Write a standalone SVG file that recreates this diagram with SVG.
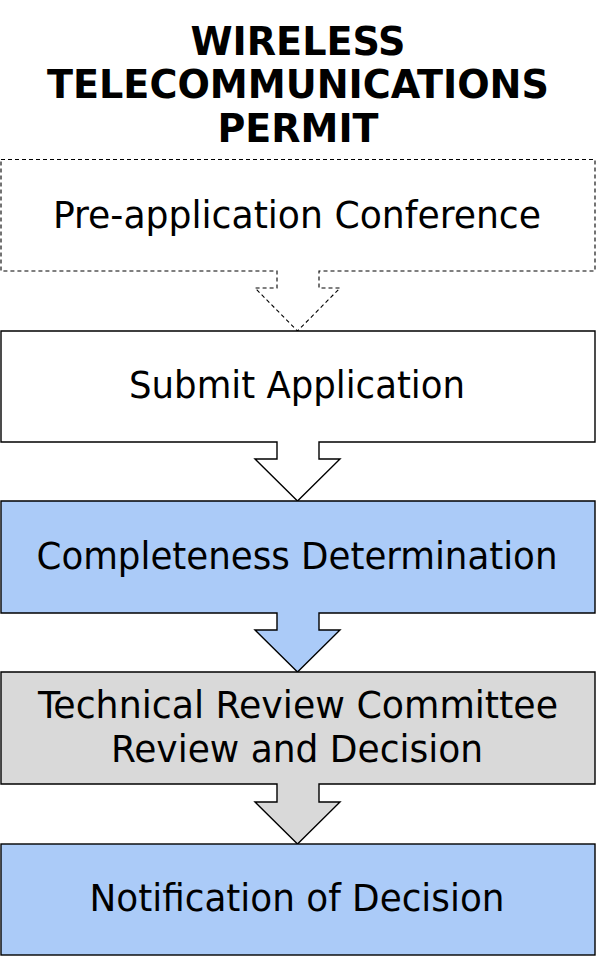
<svg xmlns="http://www.w3.org/2000/svg" width="597" height="956" viewBox="0 0 597 956">
<style>
text{font-family:"DejaVu Sans Condensed","DejaVu Sans","Liberation Sans",sans-serif;font-size:37px;fill:#000;text-anchor:middle}
.title{font-weight:bold;font-size:39px}
.shape{stroke:#000;stroke-width:1.4;stroke-linejoin:miter}
.dash{fill:#fff;stroke-width:1.1;stroke-dasharray:4 3}
.white{fill:#fff}
.blue{fill:#abcbf8}
.gray{fill:#d9d9d9}
</style>
<rect width="597" height="956" fill="#fff"/>
<g id="title">
<text class="title" x="298" y="55" textLength="215" lengthAdjust="spacingAndGlyphs">WIRELESS</text>
<text class="title" x="298" y="98" textLength="502" lengthAdjust="spacingAndGlyphs">TELECOMMUNICATIONS</text>
<text class="title" x="298" y="142" textLength="161" lengthAdjust="spacingAndGlyphs">PERMIT</text>
</g>
<g id="connectors"></g>
<g id="node-preapp">
<path class="shape dash" d="M1,159.5 H595 V271 H319 V288 H340 L297.5,331 L255,288 H277 V271 H1 Z"/>
<text x="297" y="228" textLength="488" lengthAdjust="spacingAndGlyphs">Pre-application Conference</text>
</g>
<g id="node-submit">
<path class="shape white" d="M1,331 H595 V442 H319 V459 H340 L297.5,501 L255,459 H277 V442 H1 Z"/>
<text x="297" y="398" textLength="336" lengthAdjust="spacingAndGlyphs">Submit Application</text>
</g>
<g id="node-completeness">
<path class="shape blue" d="M1,501 H595 V613 H319 V630 H340 L297.5,672 L255,630 H277 V613 H1 Z"/>
<text x="297" y="569" textLength="521" lengthAdjust="spacingAndGlyphs">Completeness Determination</text>
</g>
<g id="node-trc">
<path class="shape gray" d="M1,672 H595 V784 H319 V802 H340 L297.5,844 L255,802 H277 V784 H1 Z"/>
<text x="298" y="718" textLength="520" lengthAdjust="spacingAndGlyphs">Technical Review Committee</text>
<text x="297" y="762" textLength="372" lengthAdjust="spacingAndGlyphs">Review and Decision</text>
</g>
<g id="node-notification">
<rect class="shape blue" x="1" y="844" width="594" height="111"/>
<text x="297" y="911" textLength="415" lengthAdjust="spacingAndGlyphs">Notification of Decision</text>
</g>
</svg>
